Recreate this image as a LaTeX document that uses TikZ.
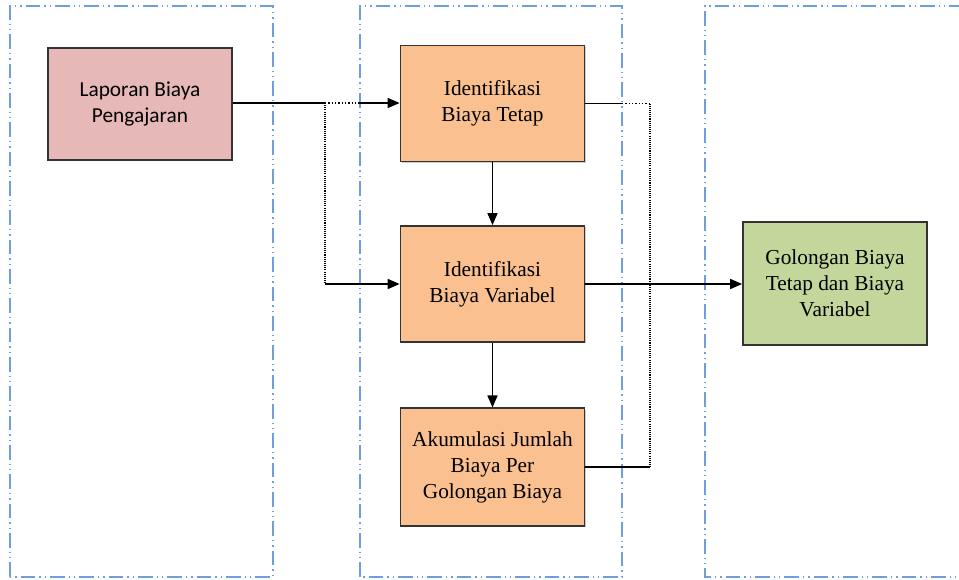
\documentclass[tikz,border=0pt]{standalone}
\usepackage{fontspec}
\setmainfont{Liberation Serif}
\newfontfamily\calfont{Carlito}
\usetikzlibrary{arrows.meta}
\usetikzlibrary{shadows}

\definecolor{lanecol}{HTML}{6E9EDB}
\definecolor{pinkbox}{HTML}{E6B8B7}
\definecolor{orangebox}{HTML}{FAC090}
\definecolor{greenbox}{HTML}{C3D69B}

\tikzset{
  lane/.style={lanecol, line width=1pt, dash pattern=on 11pt off 3pt on 1pt off 3pt on 1pt off 3pt},
  box/.style={draw=black!80, line width=1.3pt, minimum width=138pt, minimum height=87pt,
    align=center, inner sep=0pt, font=\fontsize{16}{19.5}\selectfont,
    drop shadow={shadow xshift=1pt, shadow yshift=-1pt, opacity=0.4}},
  arr/.style={-{Triangle[length=9pt,width=7.5pt]}, line width=1.2pt},
  link/.style={line width=1.2pt},
  dotlink/.style={line width=1.6pt, dash pattern=on 0.8pt off 0.8pt},
  thindot/.style={line width=1.2pt, dash pattern=on 1pt off 1.5pt}
}

\begin{document}
\begin{tikzpicture}[x=0.75pt, y=-0.75pt]
    \useasboundingbox (0,0) rectangle (959,579);
	% lanes
    \draw[lane] (10,577) -- (10,6) -- (273,6) -- (273,577) -- cycle;
    \draw[lane] (360,577) -- (360,6) -- (622,6) -- (622,577) -- cycle;
    \draw[lane] (975,577) -- (705,577) -- (705,6) -- (975,6);

    % boxes
    \node[box, fill=pinkbox, minimum height=84pt] (lapor) at (140,104) {\calfont Laporan Biaya\\ \calfont Pengajaran};
    \node[box, fill=orangebox] (tetap) at (492.5,103.5) {Identifikasi\\Biaya Tetap};
    \node[box, fill=orangebox] (varia) at (492.5,284) {Identifikasi\\Biaya Variabel};
    \node[box, fill=orangebox, minimum height=88pt] (akum) at (492.5,467) {Akumulasi Jumlah\\Biaya Per\\Golongan Biaya};
    \node[box, fill=greenbox, minimum height=92pt] (golong) at (835,283.5) {Golongan Biaya\\Tetap dan Biaya\\Variabel};

    \coordinate (jl) at (325,103);
    \coordinate (jr) at (650,284);

    % left side
    \draw[link] (lapor.east |- jl) -- (jl);
    \draw[thindot] (jl) -- (360,103);
    \draw[arr] (360,103) -- (jl -| tetap.west);
    \draw[dotlink] (jl) -- (jl |- varia.west);
    \draw[arr] (jl |- varia.west) -- (varia.west);

    % middle
    \draw[arr] (tetap.south) -- (varia.north);
    \draw[arr] (varia.south) -- (akum.north);

    % right side
    \draw[link] (tetap.east) -- (622,103.5);
    \draw[thindot] (622,103.5) -- (tetap.east -| jr);
    \draw[dotlink] (tetap.east -| jr) -- (akum.east -| jr);
    \draw[link] (akum.east) -- (akum.east -| jr);
    \draw[arr] (varia.east) -- (varia.east -| golong.west);
    
\end{tikzpicture}
\end{document}
